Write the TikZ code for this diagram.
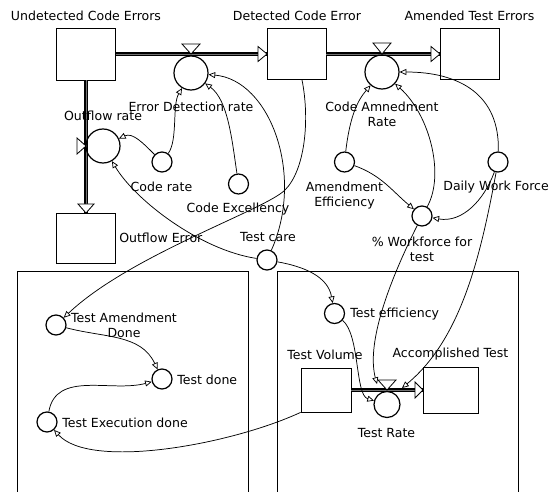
\documentclass[tikz,border=0pt]{standalone}
\usepackage{fontspec}
\setmainfont{DejaVu Sans}
\usetikzlibrary{arrows.meta}
\newcommand\lblfont{\fontsize{9.4}{11}\selectfont}
\begin{document}
\begin{tikzpicture}[x=0.75pt,y=0.75pt,
  stock/.style={draw, rectangle, inner sep=0pt, line width=0.6pt},
  aux/.style={draw, circle, inner sep=0pt, minimum size=15pt, line width=0.9pt},
  rate/.style={draw, circle, inner sep=0pt, line width=0.9pt},
  lbl/.style={inner sep=0pt, font=\lblfont, align=center},
  link/.style={line width=0.55pt, -{Triangle[open, length=5pt, width=4.5pt]}},
  pipe/.style={draw=black, double=black!55, double distance=0.7pt, line width=1.4pt},
  head/.style={draw, fill=white, line width=0.6pt, line join=miter},
  sector/.style={line width=0.6pt}]
\useasboundingbox (0,0) rectangle (551,-492);
\fill[white] (0,0) rectangle (551,-492);
\clip (0,0) rectangle (551,-492);

% sectors
\draw[sector] (17,-495) -- (17,-271) -- (248,-271) -- (248,-495);
\draw[sector] (277,-495) -- (277,-271) -- (518,-271) -- (518,-495);

% stocks
\node[stock, minimum width=44.25pt, minimum height=39pt] (uce) at (86,-54) {};
\node[stock, minimum width=44.25pt, minimum height=38.25pt] (dce) at (296.5,-54) {};
\node[stock, minimum width=44.25pt, minimum height=38.25pt] (ate) at (469.5,-54) {};
\node[stock, minimum width=44.25pt, minimum height=37.5pt] (oe) at (86,-238) {};
\node[stock, minimum width=37.5pt, minimum height=33pt] (tv) at (326,-390) {};
\node[stock, minimum width=41.25pt, minimum height=34.5pt] (at) at (450.5,-390) {};

% pipes
\draw[pipe] (uce.east) -- (dce.west);
\draw[head] (258,-46.5) -- (267,-54) -- (258,-61.5) -- cycle;
\draw[pipe] (dce.east) -- (ate.west);
\draw[head] (431,-46.5) -- (440,-54) -- (431,-61.5) -- cycle;
\draw[pipe] (uce.south) -- (oe.north);
\draw[head] (78,-204) -- (86,-213) -- (94,-204) -- cycle;
\draw[pipe] (tv.east) -- (at.west);
\draw[head] (415,-382) -- (423,-390) -- (415,-398) -- cycle;

% valves and rates
\draw[head] (182,-44) -- (200,-44) -- (191,-54) -- cycle;
\node[rate, minimum size=25.5pt] (errdet) at (191,-73) {};
\draw[head] (373,-43) -- (391,-43) -- (382,-54) -- cycle;
\node[rate, minimum size=25.5pt] (codeamend) at (382,-72) {};
\draw[head] (77,-138) -- (77,-154) -- (86,-146) -- cycle;
\node[rate, minimum size=25.5pt] (outrate) at (103,-146) {};
\draw[head] (378,-380) -- (396,-380) -- (387,-390) -- cycle;
\node[rate, minimum size=19.5pt] (testrate) at (387,-404.5) {};
\coordinate (trvL) at (377,-384);
\coordinate (trvR) at (402,-388);

% auxiliaries
\node[aux] (coderate) at (162,-162) {};
\node[aux] (codeexc) at (238.5,-184) {};
\node[aux] (testcare) at (267,-260) {};
\node[aux] (amendeff) at (344.5,-162) {};
\node[aux] (dwf) at (498,-162) {};
\node[aux] (pwf) at (422,-216) {};
\node[aux] (testeff) at (334.5,-313.5) {};
\node[aux] (tad) at (56,-325) {};
\node[aux] (testdone) at (162,-379) {};
\node[aux] (ted) at (47,-422) {};

% labels
\node[lbl] (l-uce) at (86,-16) {Undetected Code Errors};
\node[lbl] (l-dce) at (297,-16) {Detected Code Error};
\node[lbl] (l-ate) at (469.5,-16) {Amended Test Errors};
\node[lbl] (l-errdet) at (191,-107) {Error Detection rate};
\node[lbl] (l-outrate) at (103,-116) {Outflow rate};
\node[lbl] (l-codeamend) at (382,-114) {Code Amnedment\\Rate};
\node[lbl] (l-coderate) at (161.5,-187) {Code rate};
\node[lbl] (l-codeexc) at (238,-209) {Code Excellency};
\node[lbl, anchor=west] (l-oe) at (119,-238) {Outflow Error};
\node[lbl] (l-testcare) at (268,-237) {Test care};
\node[lbl] (l-amendeff) at (344.5,-195.5) {Amendment\\Efficiency};
\node[lbl, anchor=east] (l-dwf) at (549,-187) {Daily Work Force};
\node[lbl] (l-pwf) at (422,-249) {\% Workforce for\\test};
\node[lbl, anchor=west] (l-testeff) at (350,-314) {Test efficiency};
\node[lbl] (l-tv) at (325,-355) {Test Volume};
\node[lbl] (l-at) at (450.5,-354) {Accomplished Test};
\node[lbl] (l-testrate) at (386.5,-433) {Test Rate};
\node[lbl] (l-tad) at (124,-325.5) {Test Amendment\\Done};
\node[lbl, anchor=west] (l-testdone) at (177,-380) {Test done};
\node[lbl, anchor=west] (l-ted) at (62,-423) {Test Execution done};

% links
\draw[link] (coderate) to[out=135,in=25] (outrate);
\draw[link] (coderate) .. controls (178,-140) and (172,-105) .. (errdet);
\draw[link] (codeexc) .. controls (232,-140) and (228,-100) .. (errdet);
\draw[link] (testcare) .. controls (305,-175) and (270,-80) .. (errdet);
\draw[link] (testcare) .. controls (200,-250) and (135,-200) .. (outrate);
\draw[link] (dce.-78) .. controls (310,-120) and (305,-170) .. (285,-190) .. controls (265,-210) and (130,-255) .. (tad);
\draw[link] (amendeff) .. controls (350,-115) and (358,-100) .. (codeamend);
\draw[link] (amendeff) to[out=-20,in=140] (pwf);
\draw[link] (pwf) .. controls (445,-175) and (430,-115) .. (codeamend);
\draw[link] (dwf) .. controls (500,-95) and (460,-72) .. (codeamend);
\draw[link] (dwf) to[out=-110,in=-10] (pwf);
\draw[link] (dwf) .. controls (480,-260) and (460,-340) .. (trvR);
\draw[link] (pwf) .. controls (380,-300) and (368,-350) .. (trvL);
\draw[link] (testcare) to[out=-10,in=100] (testeff);
\draw[link] (testeff) .. controls (360,-335) and (355,-395) .. (testrate);
\draw[link] (tad) to[out=-15,in=115] (testdone);
\draw[link] (ted) to[out=80,in=195] (testdone);
\draw[link] (tv.south west) .. controls (230,-445) and (90,-470) .. (ted);
\end{tikzpicture}
\end{document}
